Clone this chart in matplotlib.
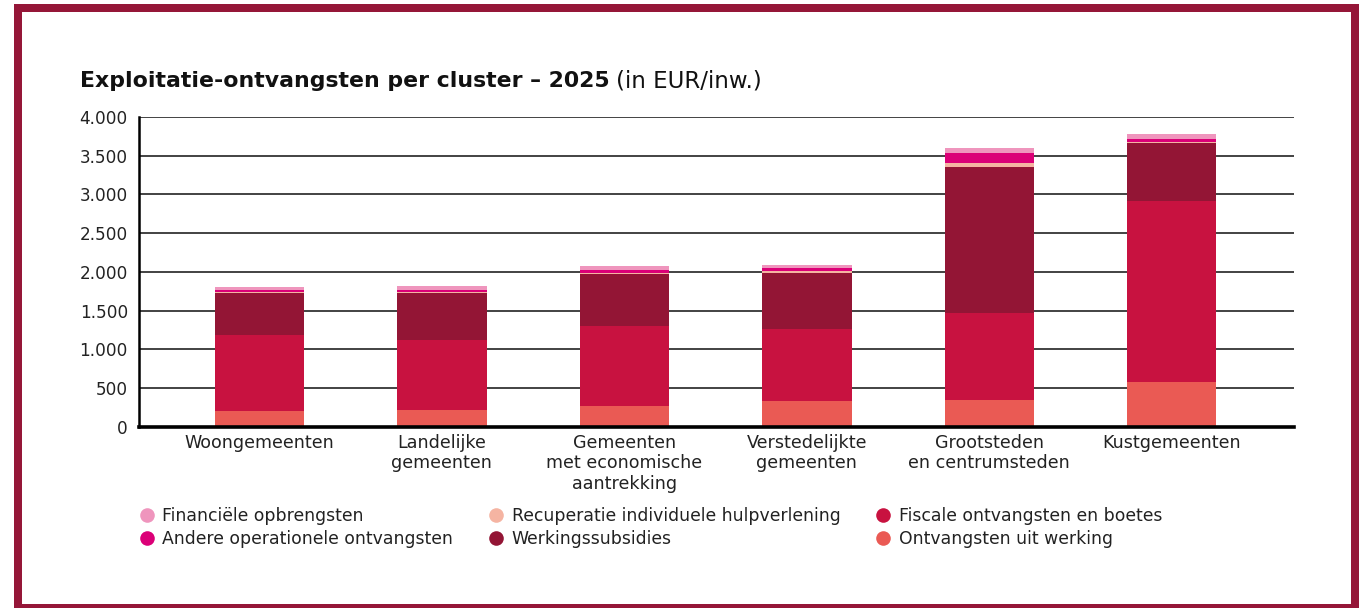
import matplotlib
matplotlib.use("Agg")
import matplotlib.pyplot as plt
from matplotlib.patches import Rectangle
from matplotlib.lines import Line2D
from matplotlib.ticker import FuncFormatter
import numpy as np

categories = ["Woongemeenten", "Landelijke\ngemeenten", "Gemeenten\nmet economische\naantrekking",
              "Verstedelijkte\ngemeenten", "Grootsteden\nen centrumsteden", "Kustgemeenten"]

ontvangsten_uit_werking = [203, 216, 271, 332, 345, 577]
fiscale_ontvangsten = [982, 904, 1030, 930, 1124, 2339]
werkingssubsidies = [546, 607, 672, 724, 1886, 749]
recuperatie = [13, 13, 13, 25, 52, 13]
andere_operationele = [26, 26, 39, 39, 129, 39]
financiele_opbrengsten = [35, 52, 51, 39, 65, 65]

series = [
    ("Ontvangsten uit werking", ontvangsten_uit_werking, "#EA5A54"),
    ("Fiscale ontvangsten en boetes", fiscale_ontvangsten, "#C81240"),
    ("Werkingssubsidies", werkingssubsidies, "#931535"),
    ("Recuperatie individuele hulpverlening", recuperatie, "#F5B4A2"),
    ("Andere operationele ontvangsten", andere_operationele, "#DB0077"),
    ("Financiële opbrengsten", financiele_opbrengsten, "#EF95BD"),
]

W, H = 1364, 608
fig = plt.figure(figsize=(W / 100, H / 100), dpi=100)
fig.patch.set_facecolor("white")

ax = fig.add_axes([139 / W, 1 - 426.7 / H, (1294 - 139) / W, (426.7 - 117) / H])
x = np.arange(len(categories))
bottom = np.zeros(len(categories))
for name, vals, col in series:
    ax.bar(x, vals, width=0.49, bottom=bottom, color=col, label=name, zorder=3, linewidth=0)
    bottom += np.array(vals)

ax.set_xlim(-0.66, 5.67)
ax.set_ylim(0, 4000)
ax.set_yticks(np.arange(0, 4001, 500))
ax.yaxis.set_major_formatter(FuncFormatter(lambda v, p: f"{int(v):,}".replace(",", ".")))
ax.set_xticks(x)
ax.set_xticklabels(categories, fontsize=12.6, color="#222222", linespacing=1.18)
ax.tick_params(axis="both", length=0)
ax.tick_params(axis="y", labelsize=12.2, pad=8, labelcolor="#222222")
ax.tick_params(axis="x", pad=5)
ax.grid(axis="y", color="#222222", linewidth=1.2, zorder=0)
ax.set_axisbelow(True)
for s in ["top", "right"]:
    ax.spines[s].set_visible(False)
ax.spines["left"].set_linewidth(1.8)
ax.spines["left"].set_color("black")
ax.spines["bottom"].set_linewidth(2.6)
ax.spines["bottom"].set_color("black")
ax.spines["bottom"].set_zorder(4)

# title
t1 = fig.text(80 / W, 1 - 87 / H, "Exploitatie-ontvangsten per cluster – 2025",
              fontsize=15.8, fontweight="bold", color="#111111", va="baseline", ha="left")
fig.canvas.draw()
bb = t1.get_window_extent()
fig.text(bb.x1 / W + 6 / W, 1 - 87 / H, "(in EUR/inw.)", fontsize=16.5, color="#111111",
         va="baseline", ha="left")

# legend
order = [5, 4, 3, 2, 1, 0]
handles = [Line2D([], [], marker="o", linestyle="none", markersize=10.5,
                  markerfacecolor=series[i][2], markeredgewidth=0) for i in order]
labels = [series[i][0] for i in order]
fig.legend(handles, labels, loc="upper left", bbox_to_anchor=(138 / W, 1 - 507 / H),
           ncol=3, frameon=False, fontsize=12.4, handlelength=1.0, handletextpad=0.4,
           columnspacing=2.0, labelspacing=0.3, borderpad=0, borderaxespad=0,
           labelcolor="#222222")

# border frame
fig.patches.append(Rectangle((18 / W, 0), (1355 - 18) / W, (608 - 8) / H,
                             transform=fig.transFigure, fill=False,
                             edgecolor="#951638", linewidth=8 * 0.72, clip_on=False))

fig.savefig("out.png", dpi=100)
